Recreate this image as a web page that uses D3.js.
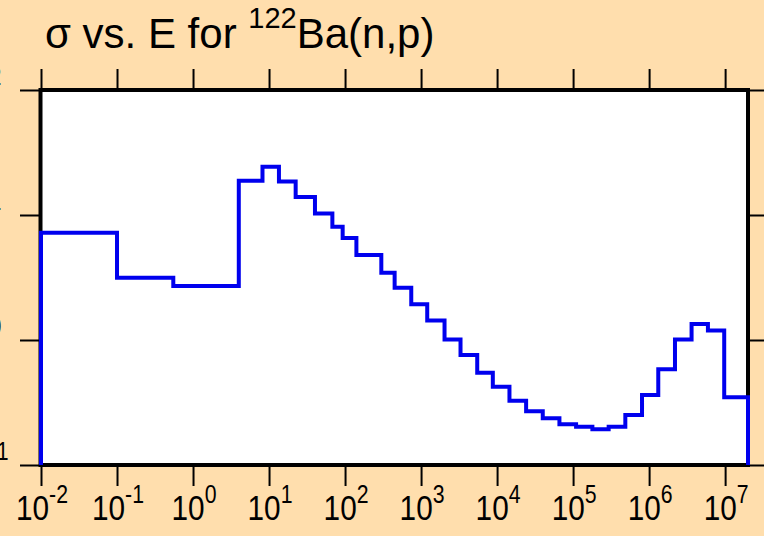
<!DOCTYPE html>
<html>
<head>
<meta charset="utf-8">
<script src="https://cdn.jsdelivr.net/npm/d3@7/dist/d3.min.js"></script>
<style>
  html, body { margin: 0; padding: 0; background: #FFDEAD; }
  svg { display: block; }
  text { font-family: "Liberation Sans", Arial, Helvetica, sans-serif; fill: #000; }
</style>
</head>
<body>
<svg id="chart" width="764" height="536"></svg>
<script>
// ---- data ----
const titleMain = "σ vs. E for ";
const titleSup = "122";
const titleTail = "Ba(n,p)";

// energy group boundaries (eV)
const energyEdges = [
  0.01, 0.1, 0.55, 4.0, 8.2, 13.5, 22.4, 40.2, 68.1, 93, 141, 300, 449, 743,
  1205, 2036, 3304, 5480, 8790, 14550, 24100, 39900, 66100, 109500, 179400,
  293600, 486600, 807000, 1.32e6, 2.19e6, 3.62e6, 5.94e6, 9.73e6, 2e7
];
// cross section in each group (mb)
const sigmaValues = [
  7.22, 3.15, 2.70, 18.8, 24.3, 18.5, 13.9, 10.3, 8.06, 6.55, 4.79, 3.45,
  2.62, 1.93, 1.43, 1.01, 0.759, 0.547, 0.423, 0.327, 0.269, 0.237, 0.212,
  0.202, 0.193, 0.202, 0.251, 0.363, 0.583, 1.01, 1.34, 1.19, 0.349
];
const xTickExps = [-2, -1, 0, 1, 2, 3, 4, 5, 6, 7];
const yTickExps = [-1, 0, 1, 2];

// ---- layout ----
const pL = 41, pR = 748, pT = 90, pB = 465;
const svg = d3.select("#chart");

const x = d3.scaleLog().domain([1e-2, 2e7]).range([pL, pR]);
const y = d3.scaleLog().domain([0.1, 100]).range([pB, pT]);

// plot background
svg.append("rect").attr("x", pL).attr("y", pT)
  .attr("width", pR - pL).attr("height", pB - pT)
  .attr("fill", "#fff");

// border
svg.append("rect").attr("x", pL - 0.5).attr("y", pT)
  .attr("width", pR - pL + 0.5).attr("height", pB - pT)
  .attr("fill", "none").attr("stroke", "#000").attr("stroke-width", 4);

// axes (ticks only, outward)
const xTicks = xTickExps.map(e => Math.pow(10, e));
const yTicks = yTickExps.map(e => Math.pow(10, e));

function styleAxis(g) {
  g.select(".domain").remove();
  g.selectAll(".tick line").attr("stroke", "#000").attr("stroke-width", 2);
  g.selectAll(".tick text").remove();
}
svg.append("g").attr("transform", `translate(0,${pB})`)
  .call(d3.axisBottom(x).tickValues(xTicks).tickSize(21).tickFormat(""))
  .call(styleAxis);
svg.append("g").attr("transform", `translate(0,${pT})`)
  .call(d3.axisTop(x).tickValues(xTicks).tickSize(21).tickFormat(""))
  .call(styleAxis);
svg.append("g").attr("transform", `translate(${pL},0)`)
  .call(d3.axisLeft(y).tickValues(yTicks).tickSize(21).tickFormat(""))
  .call(styleAxis);
svg.append("g").attr("transform", `translate(${pR},0)`)
  .call(d3.axisRight(y).tickValues(yTicks).tickSize(18).tickFormat(""))
  .call(styleAxis);

// x tick labels: 10^n (condensed face)
const xl = svg.append("g");
xTickExps.forEach(e => {
  const t = xl.append("text")
    .attr("transform", `translate(${x(Math.pow(10, e)) + 1},520) scale(0.85,1)`)
    .attr("text-anchor", "middle").attr("font-size", 35);
  t.append("tspan").text("10");
  t.append("tspan").attr("font-size", 25).attr("dy", -17).text(String(e));
});

// y tick labels (mostly cut off at the left edge, as in the reference)
const yl = svg.append("g");
yTickExps.forEach(e => {
  const t = yl.append("text")
    .attr("transform", `translate(-43.5,${y(Math.pow(10, e)) + 12}) scale(0.85,1)`)
    .attr("text-anchor", "start").attr("font-size", 35);
  t.append("tspan").text("10");
  t.append("tspan").attr("font-size", 25).attr("dy", -17).text(String(e));
});

// step histogram
const pts = [[energyEdges[0], 0.1]];
sigmaValues.forEach((v, i) => pts.push([energyEdges[i], v]));
pts.push([energyEdges[energyEdges.length - 1], sigmaValues[sigmaValues.length - 1]]);
pts.push([energyEdges[energyEdges.length - 1], 0.1]);

const line = d3.line().x(d => x(d[0])).y(d => y(d[1])).curve(d3.curveStepAfter);
svg.append("path").attr("d", line(pts))
  .attr("fill", "none").attr("stroke", "#0000ee").attr("stroke-width", 4)
  .attr("stroke-linejoin", "miter");

// title
const title = svg.append("text").attr("x", 45).attr("y", 48).attr("font-size", 42);
title.append("tspan").text(titleMain);
title.append("tspan").attr("font-size", 29).attr("dy", -20).text(titleSup);
title.append("tspan").attr("dy", 20).text(titleTail);
</script>
</body>
</html>
